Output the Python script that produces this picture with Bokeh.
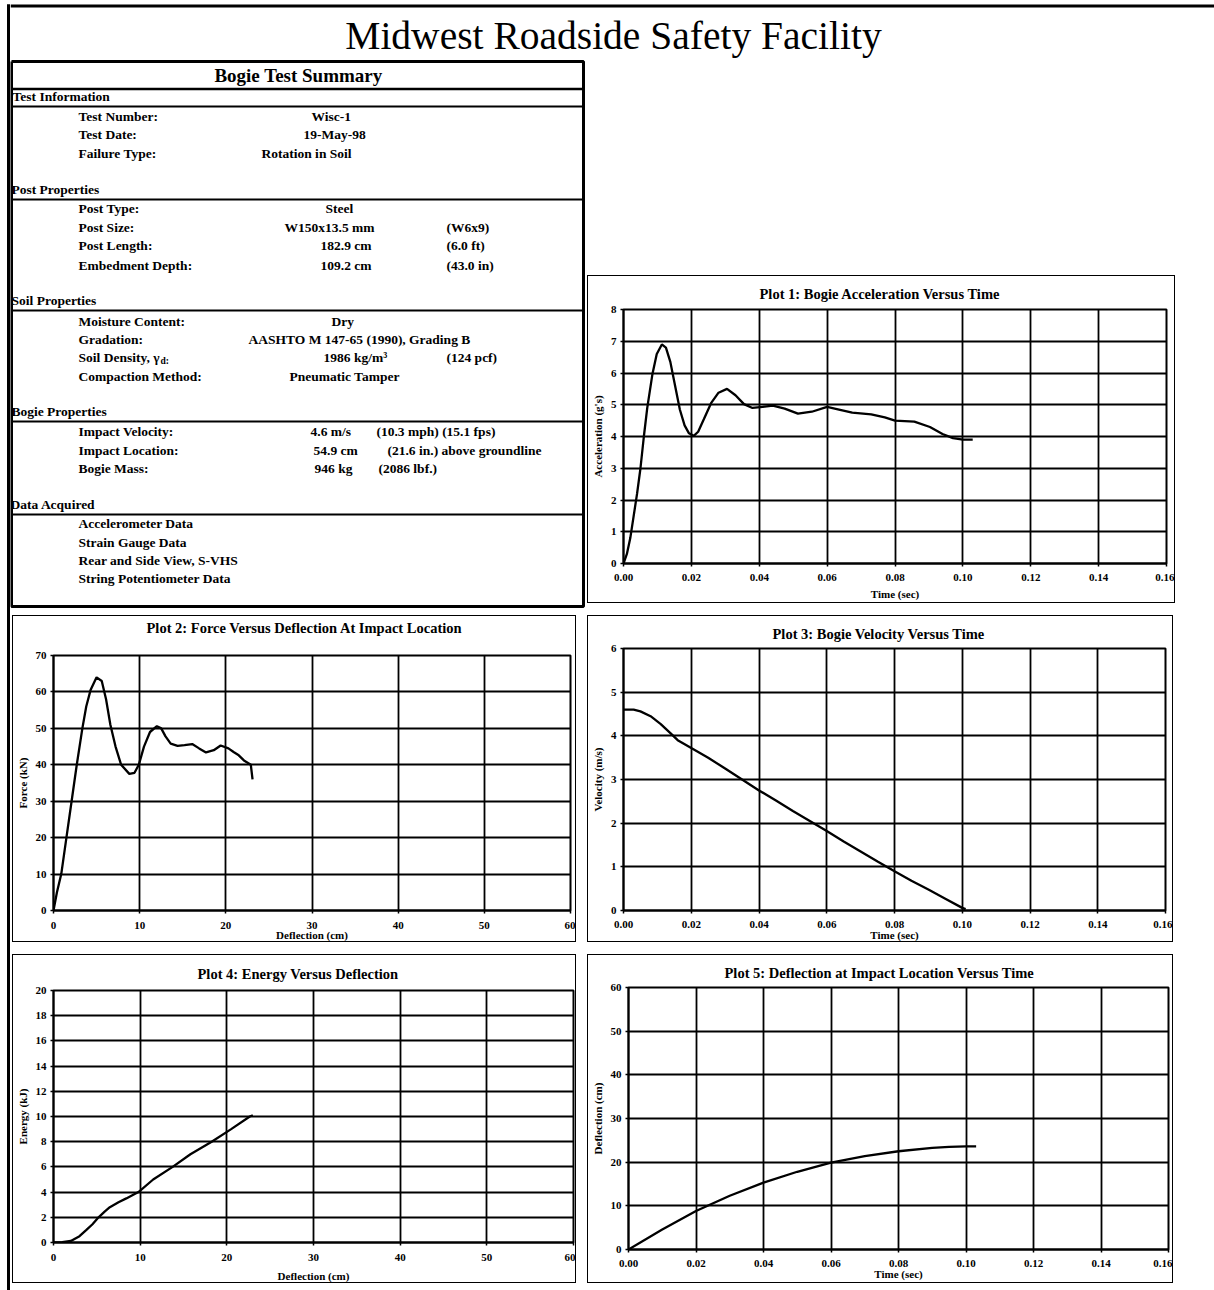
from bokeh.plotting import figure
from bokeh.layouts import row, column
from bokeh.models import Range1d, FixedTicker, PrintfTickFormatter, Title
from bokeh.core.properties import value
from bokeh.embed import file_html
from bokeh.resources import INLINE

SERIF = "Liberation Serif"

# ---------------------------------------------------------------- data
# Plot 1: bogie acceleration (g's) versus time (sec)
accel_time = [0.0, 0.001, 0.002, 0.003, 0.004, 0.005, 0.006, 0.007, 0.0085, 0.0098,
              0.0113, 0.0125, 0.0138, 0.0152, 0.0166, 0.018, 0.0193, 0.0207, 0.022,
              0.0237, 0.0258, 0.028, 0.0305, 0.033, 0.0355, 0.038, 0.041, 0.044,
              0.0475, 0.0514, 0.0555, 0.060, 0.0635, 0.0674, 0.073, 0.077, 0.080,
              0.0857, 0.0903, 0.094, 0.0971, 0.100, 0.1029]
accel_g = [0.0, 0.3, 0.8, 1.5, 2.2, 3.0, 4.0, 4.9, 5.95, 6.6,
           6.9, 6.8, 6.35, 5.6, 4.85, 4.35, 4.1, 4.02, 4.15,
           4.55, 5.05, 5.38, 5.5, 5.3, 5.02, 4.9, 4.93, 4.97,
           4.88, 4.72, 4.78, 4.93, 4.85, 4.75, 4.7, 4.6, 4.5,
           4.47, 4.3, 4.08, 3.95, 3.9, 3.9]

# Plot 2: force (kN) versus deflection at impact location (cm)
force_defl = [0.0, 0.4, 0.9, 1.5, 2.1, 2.7, 3.35, 3.8, 4.3, 5.0, 5.6, 6.1, 6.6, 7.2,
              7.85, 8.8, 9.4, 9.9, 10.5, 11.2, 12.0, 12.5, 13.0, 13.6, 14.4, 15.2,
              16.1, 16.9, 17.7, 18.6, 19.4, 20.3, 20.9, 21.5, 22.1, 22.9, 23.1]
force_kn = [0.0, 5.0, 10.0, 20.0, 30.0, 40.0, 50.0, 56.0, 60.5, 64.0, 63.0, 58.0, 51.0, 45.0,
            40.0, 37.5, 37.8, 40.0, 45.0, 49.0, 50.6, 50.0, 47.8, 45.8, 45.2, 45.4,
            45.7, 44.5, 43.4, 44.0, 45.3, 44.5, 43.5, 42.6, 41.2, 40.0, 36.0]

# Plot 3: bogie velocity (m/s) versus time (sec)
vel_time = [0.0, 0.003, 0.005, 0.008, 0.011, 0.014, 0.016, 0.02, 0.025, 0.03, 0.035,
            0.04, 0.045, 0.05, 0.055, 0.06, 0.065, 0.07, 0.075, 0.08, 0.085, 0.09,
            0.095, 0.1, 0.101]
vel_ms = [4.6, 4.6, 4.56, 4.45, 4.27, 4.05, 3.9, 3.72, 3.5, 3.25, 3.0,
          2.75, 2.52, 2.28, 2.05, 1.82, 1.58, 1.35, 1.12, 0.9, 0.68, 0.48,
          0.27, 0.06, 0.03]

# Plot 4: energy (kJ) versus deflection (cm)
energy_defl = [0.0, 1.0, 2.0, 3.0, 3.8, 4.5, 5.2, 5.9, 6.5, 7.5, 8.4, 9.8, 11.5,
               13.75, 15.8, 18.25, 20.5, 22.65, 23.0]
energy_kj = [0.0, 0.03, 0.12, 0.5, 1.0, 1.45, 2.0, 2.45, 2.8, 3.2, 3.5, 4.0, 5.0,
             6.0, 7.0, 8.0, 9.0, 10.0, 10.1]

# Plot 5: deflection at impact location (cm) versus time (sec)
defl_time = [0.0, 0.01, 0.02, 0.03, 0.04, 0.05, 0.06, 0.07, 0.08, 0.09, 0.095, 0.1, 0.103]
defl_cm = [0.0, 4.6, 8.8, 12.3, 15.3, 17.8, 19.9, 21.4, 22.5, 23.25, 23.5, 23.6, 23.6]

time_ticks = [0.00, 0.02, 0.04, 0.06, 0.08, 0.10, 0.12, 0.14, 0.16]
defl_ticks = [0, 10, 20, 30, 40, 50, 60]
accel_ticks = [0, 1, 2, 3, 4, 5, 6, 7, 8]
force_ticks = [0, 10, 20, 30, 40, 50, 60, 70]
vel_ticks = [0, 1, 2, 3, 4, 5, 6]
energy_ticks = [0, 2, 4, 6, 8, 10, 12, 14, 16, 18, 20]
deflcm_ticks = [0, 10, 20, 30, 40, 50, 60]

# summary table text
page_title = "Midwest Roadside Safety Facility"
table_title = "Bogie Test Summary"
sections = ["Test Information", "Post Properties", "Soil Properties",
            "Bogie Properties", "Data Acquired"]
test_labels = ["Test Number:", "Test Date:", "Failure Type:"]
test_values = ["Wisc-1", "19-May-98", "Rotation in Soil"]
post_labels = ["Post Type:", "Post Size:", "Post Length:", "Embedment Depth:"]
post_values = ["Steel", "W150x13.5 mm", "182.9 cm", "109.2 cm"]
post_english = ["", "(W6x9)", "(6.0 ft)", "(43.0 in)"]
soil_labels = ["Moisture Content:", "Gradation:", "Soil Density, \u03b3", "Compaction Method:"]
soil_values = ["Dry", "AASHTO M 147-65 (1990), Grading B", "1986 kg/m\u00b3", "Pneumatic Tamper"]
soil_english = ["", "", "(124 pcf)", ""]
bogie_labels = ["Impact Velocity:", "Impact Location:", "Bogie Mass:"]
bogie_values = ["4.6 m/s", "54.9 cm", "946 kg"]
bogie_english = ["(10.3 mph) (15.1 fps)", "(21.6 in.) above groundline", "(2086 lbf.)"]
data_items = ["Accelerometer Data", "Strain Gauge Data", "Rear and Side View, S-VHS",
              "String Potentiometer Data"]


def blank(width, height, xr, yr):
    """A figure whose frame fills it, addressed in page pixels."""
    f = figure(width=width, height=height, x_range=Range1d(*xr), y_range=Range1d(*yr),
               output_backend="svg", toolbar_location=None,
               x_axis_location=None, y_axis_location=None, min_border=0,
               frame_align=False,
               background_fill_color="white", border_fill_color="white")
    f.grid.visible = False
    f.outline_line_color = None
    return f


def txt(f, x, y, s, size="13.5px", style="bold", align="left", baseline="middle"):
    f.text(x=[x], y=[y], text=[s], text_font=value(SERIF), text_font_size=size,
           text_font_style=style, text_align=align, text_baseline=baseline,
           text_color="black")


def chart(title, xs, ys, xr, yr, xticks, yticks, xfmt, yfmt, xlabel, ylabel,
          size, frame_lrtb, margin, title_offset, title_standoff, title_gap,
          x_label_standoff, x_axis_standoff):
    l, r, t, b = frame_lrtb
    w, h = size
    # the 1.5px chart-area border sits outside the canvas, so the canvas is 3px smaller
    p = figure(width=w - 3, height=h - 3, x_range=Range1d(*xr), y_range=Range1d(*yr),
               output_backend="svg", toolbar_location=None,
               min_border_left=l - 1, min_border_right=r - 2,
               min_border_top=t - 1, min_border_bottom=b - 2,
               frame_align=False,
               margin=margin, background_fill_color="white", border_fill_color="white",
               styles={"border": "1.5px solid black", "box-sizing": "content-box"})
    p.line(xs, ys, line_color="black", line_width=2.3)

    p.title.text = title
    p.title.text_font = SERIF
    p.title.text_font_size = "14.5px"
    p.title.text_font_style = "bold"
    p.title.text_color = "black"
    p.title.align = "left"
    p.title.offset = title_offset
    p.title.standoff = title_standoff
    if title_gap:
        # extra room between the title and the plot area
        p.add_layout(Title(text=" ", text_font_size="2px", standoff=title_gap), "above")

    p.xaxis.ticker = FixedTicker(ticks=xticks)
    p.yaxis.ticker = FixedTicker(ticks=yticks)
    p.xaxis.formatter = PrintfTickFormatter(format=xfmt)
    p.yaxis.formatter = PrintfTickFormatter(format=yfmt)
    p.xaxis.axis_label = xlabel
    p.yaxis.axis_label = ylabel
    p.xaxis.major_label_standoff = x_label_standoff
    p.yaxis.major_label_standoff = 4
    p.xaxis.axis_label_standoff = x_axis_standoff
    p.yaxis.axis_label_standoff = 4
    for ax in (p.xaxis[0], p.yaxis[0]):
        ax.major_label_text_font = SERIF
        ax.major_label_text_font_style = "bold"
        ax.major_label_text_font_size = "11px"
        ax.major_label_text_color = "black"
        ax.axis_label_text_font = SERIF
        ax.axis_label_text_font_style = "bold"
        ax.axis_label_text_font_size = "11px"
        ax.axis_label_text_color = "black"
        ax.major_tick_in = 0
        ax.major_tick_out = 3
        ax.minor_tick_in = 0
        ax.minor_tick_out = 0
        ax.axis_line_color = "black"
        ax.axis_line_width = 1.8
        ax.major_tick_line_color = "black"
        ax.major_tick_line_width = 1.5
    p.grid.grid_line_color = "black"
    p.grid.grid_line_width = 1.8
    p.outline_line_color = "black"
    p.outline_line_width = 2
    return p


# ---------------------------------------------------------------- page frame
strip = blank(10, 1290, (0, 10), (1290, 0))
strip.line([8, 8], [4, 1290], line_color="black", line_width=3)
strip.line([6.5, 10], [5.5, 5.5], line_color="black", line_width=3)

header = blank(1204, 58, (10, 1214), (58, 0))
header.line([10, 1214], [5.5, 5.5], line_color="black", line_width=3)
txt(header, 613, 35, page_title, size="39.5px", style="normal", align="center")

# ---------------------------------------------------------------- summary table
tbl = blank(575, 551, (10, 585), (609, 58))
tbl.line([11, 583, 583, 11, 11], [61, 61, 606, 606, 61], line_color="black", line_width=3)
txt(tbl, 298, 75, table_title, size="19px", align="center")
tbl.line([11, 583], [88.5, 88.5], line_color="black", line_width=2.5)

section_y = [96, 189, 300, 411, 504]
section_x = [12, 11, 11, 11, 10]
for name, sy, sx in zip(sections, section_y, section_x):
    txt(tbl, sx, sy, name, size="13.5px")
    tbl.line([11, 583], [sy + 10, sy + 10], line_color="black", line_width=2)

LABEL_X = 78
EN_X = 446
groups = [
    (test_labels, test_values, ["", "", ""], [116, 134, 153], [311, 303, 261], EN_X),
    (post_labels, post_values, post_english, [208, 227, 245, 265], [325, 284, 320, 320], EN_X),
    (soil_labels, soil_values, soil_english, [321, 339, 357, 376], [331, 248, 323, 289], EN_X),
]
for labels, vals, eng, ys, vx, ex in groups:
    for lab, v, e, y, x in zip(labels, vals, eng, ys, vx):
        txt(tbl, LABEL_X, y, lab)
        txt(tbl, x, y, v)
        if e:
            txt(tbl, ex, y, e)
# subscript of the dry-density symbol
txt(tbl, 160, 360, "d:", size="9.5px")

bogie_y = [431, 450, 468]
bogie_vx = [310, 313, 314]
bogie_ex = [376, 387, 378]
for lab, v, e, y, x, ex in zip(bogie_labels, bogie_values, bogie_english, bogie_y,
                                bogie_vx, bogie_ex):
    txt(tbl, LABEL_X, y, lab)
    txt(tbl, x, y, v)
    txt(tbl, ex, y, e)

for item, y in zip(data_items, [523, 542, 560, 578]):
    txt(tbl, LABEL_X, y, item)

# ---------------------------------------------------------------- charts
p1 = chart("Plot 1: Bogie Acceleration Versus Time", accel_time, accel_g,
           (0, 0.16), (0, 8), time_ticks, accel_ticks, "%.2f", "%d",
           "Time (sec)", "Acceleration (g's)",
           (589, 329), (33, 12, 34, 43), (217, 38, 5, 2), 136, 15, 0, 7, 4)
p2 = chart("Plot 2: Force Versus Deflection At Impact Location", force_defl, force_kn,
           (0, 60), (0, 70), defl_ticks, force_ticks, "%d", "%d",
           "Deflection (cm)", "Force (kN)",
           (565, 328), (39, 9, 40, 35), (6, 8, 6, 2), 93, 2, 15, 8, -3)
p3 = chart("Plot 3: Bogie Velocity Versus Time", vel_time, vel_ms,
           (0, 0.16), (0, 6), time_ticks, vel_ticks, "%.2f", "%d",
           "Time (sec)", "Velocity (m/s)",
           (587, 328), (32, 11, 33, 35), (6, 39, 6, 3), 149, 14, 0, 7, -2)
p4 = chart("Plot 4: Energy Versus Deflection", energy_defl, energy_kj,
           (0, 60), (0, 20), defl_ticks, energy_ticks, "%d", "%d",
           "Deflection (cm)", "Energy (kJ)",
           (565, 330), (39, 6, 36, 43), (6, 8, 5, 2), 144, 17, 0, 8, 6)
p5 = chart("Plot 5: Deflection at Impact Location Versus Time", defl_time, defl_cm,
           (0, 0.16), (0, 60), time_ticks, deflcm_ticks, "%.2f", "%d",
           "Time (sec)", "Deflection (cm)",
           (587, 330), (40, 8, 33, 37), (6, 39, 5, 3), 96, 14, 0, 7, -2)

page = row(strip, column(header, row(tbl, p1), row(p2, p3), row(p4, p5)))

open("out.html", "w").write(file_html(page, INLINE))
